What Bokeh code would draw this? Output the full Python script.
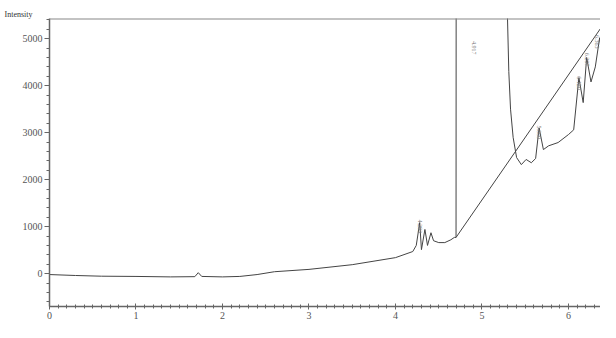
from bokeh.plotting import figure
from bokeh.models import Range1d, Span, Label, FixedTicker
from bokeh.embed import file_html
from bokeh.resources import INLINE

# Signal trace (time in min, intensity)
time = [0.0, 0.3, 0.6, 1.0, 1.4, 1.68, 1.72, 1.76, 2.0, 2.2, 2.4, 2.6, 3.0, 3.5, 4.0, 4.2,
        4.24, 4.28, 4.30, 4.34, 4.37, 4.41, 4.44, 4.50, 4.57, 4.64, 4.68, 4.70,
        4.702, 4.93, 5.10, 5.25, 5.29, 5.31, 5.33, 5.36, 5.40,
        5.455, 5.51, 5.57, 5.62, 5.66, 5.71, 5.77, 5.88, 6.00, 6.06,
        6.12, 6.17, 6.21, 6.26, 6.31, 6.36, 6.40, 6.42]
intensity = [-20, -40, -55, -60, -70, -65, 20, -60, -70, -60, -20, 40, 90, 190, 340, 470,
             600, 1085, 510, 940, 600, 870, 700, 660, 660, 720, 770, 770,
             9000, 30000, 20000, 8000, 5800, 4300, 3500, 2900, 2470,
             2320, 2430, 2360, 2450, 3100, 2640, 2720, 2790, 2960, 3060,
             4170, 3640, 4600, 4080, 4400, 5020, 4490, 4700]

# Integration baseline
base_time = [4.70, 6.42]
base_intensity = [770, 5350]

# Peak retention-time labels
peak_time = [4.28, 4.91, 5.66, 6.12, 6.21, 6.33]
peak_label_y = [1150, 4950, 3150, 4200, 4700, 5080]
peak_text = ["4.283", "4.917", "5.660", "6.120", "6.207", "6.363"]

x_ticks = [0, 1, 2, 3, 4, 5, 6]
y_ticks = [0, 1000, 2000, 3000, 4000, 5000]

p = figure(width=600, height=322, output_backend="svg", toolbar_location=None,
           x_range=Range1d(0, 6.37), y_range=Range1d(-700, 5430),
           min_border_left=49, min_border_top=18, min_border_bottom=16, min_border_right=0,
           title="Intensity")
p.outline_line_color = None
p.xgrid.visible = False
p.ygrid.visible = False

p.title.align = "left"
p.title.offset = -45
p.title.standoff = 0
p.title.text_font = "Liberation Serif"
p.title.text_font_size = "8px"
p.title.text_font_style = "normal"
p.title.text_color = "#333333"

axis_col = "#666666"
for ax in (p.xaxis[0], p.yaxis[0]):
    ax.axis_line_color = axis_col
    ax.axis_line_width = 1.5
    ax.major_tick_line_color = axis_col
    ax.minor_tick_line_color = axis_col
    ax.major_label_text_font = "Liberation Serif"
    ax.major_label_text_font_size = "10px"
    ax.major_label_text_color = "#555555"
    ax.major_label_standoff = 2

p.xaxis.ticker = FixedTicker(ticks=x_ticks, minor_ticks=[i / 10 for i in range(0, 65)])
p.yaxis.ticker = FixedTicker(ticks=y_ticks, minor_ticks=list(range(-600, 5431, 200)))
p.xaxis.major_tick_in = 3
p.xaxis.major_tick_out = 3
p.xaxis.minor_tick_in = 2
p.xaxis.minor_tick_out = 2
p.yaxis.major_tick_in = 0
p.yaxis.major_tick_out = 5
p.yaxis.minor_tick_in = 0
p.yaxis.minor_tick_out = 3

p.add_layout(Span(location=5430, dimension="width", line_color="#888888", line_width=2))

p.line(time, intensity, line_color="#444444", line_width=1)
p.line(base_time, base_intensity, line_color="#444444", line_width=1)

for t, yv, txt in zip(peak_time, peak_label_y, peak_text):
    p.add_layout(Label(x=t, y=yv, text=txt, angle=-1.5708, text_font="Liberation Serif",
                       text_font_size="6px", text_color="#777777", text_align="left",
                       text_baseline="middle"))

open("out.html", "w").write(file_html(p, INLINE))
